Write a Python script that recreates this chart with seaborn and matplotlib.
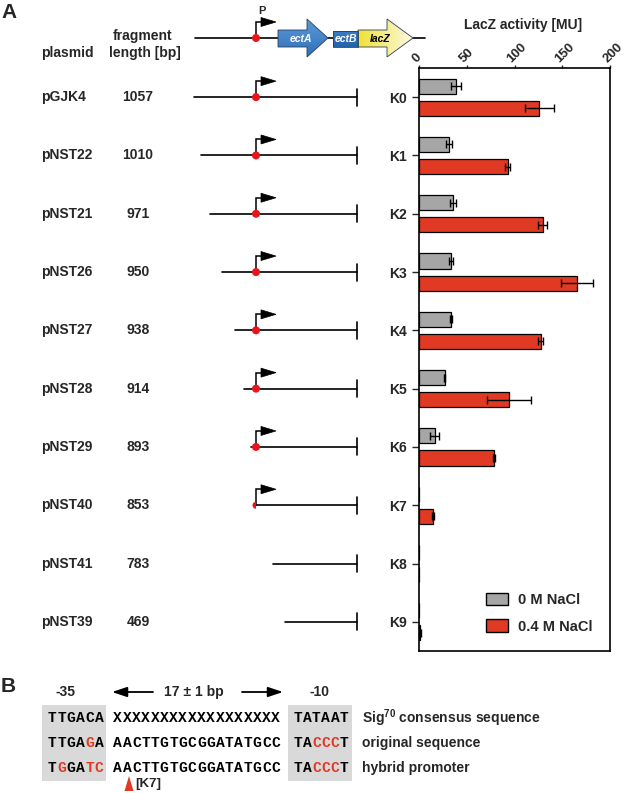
import numpy as np
import pandas as pd
import matplotlib
matplotlib.use("Agg")
import matplotlib.pyplot as plt
from matplotlib.patches import Polygon, Rectangle, Circle, Wedge, Patch
from matplotlib.transforms import ScaledTranslation
import seaborn as sns

sns.set_style("white")
plt.rcParams["font.family"] = ["Liberation Sans", "DejaVu Sans"]
plt.rcParams["font.weight"] = "bold"
plt.rcParams["mathtext.fontset"] = "custom"
plt.rcParams["mathtext.rm"] = "Liberation Sans:bold"
plt.rcParams["mathtext.bf"] = "Liberation Sans:bold"

# ---- Data ----
plasmids = ["pGJK4", "pNST22", "pNST21", "pNST26", "pNST27",
            "pNST28", "pNST29", "pNST40", "pNST41", "pNST39"]
frag_len = [1057, 1010, 971, 950, 938, 914, 893, 853, 783, 469]
constructs = ["K0", "K1", "K2", "K3", "K4", "K5", "K6", "K7", "K8", "K9"]
salt = ["0 M NaCl", "0.4 M NaCl"]
lacz_0M = [38.7, 31.4, 35.6, 33.9, 33.5, 27.2, 16.4, 0, 0, 0]
lacz_0M_err = [5.4, 3.0, 3.3, 2.0, 1.0, 0.5, 4.5, 0, 0, 0]
lacz_04M = [126.0, 92.8, 129.8, 165.4, 127.4, 94.2, 78.9, 15.0, 0, 1.5]
lacz_04M_err = [15.0, 2.5, 4.7, 16.8, 2.8, 23.4, 1.0, 1.0, 0, 0.5]
# construct drawing: left end of each fragment (drawing px), promoter: 2 full, 1 cut, 0 none
frag_start = [194, 201, 210, 222, 235, 244, 251, 256, 273, 285]
promoter_state = [2, 2, 2, 2, 2, 2, 2, 1, 0, 0]

# panel B
seq_labels = ["Sig$^{70}$ consensus sequence", "original sequence", "hybrid promoter"]
box35 = ["TTGACA", "TTGAGA", "TGGATC"]
spacer = ["XXXXXXXXXXXXXXXXXX", "AACTTGTGCGGATATGCC", "AACTTGTGCGGATATGCC"]
box10 = ["TATAAT", "TACCCT", "TACCCT"]

gray = "#a6a6a6"
red = "#e13a24"
dot_red = "#e8141c"

W, H = 625, 793
fig = plt.figure(figsize=(W / 100, H / 100), dpi=100)

# drawing canvas in pixel coordinates
canvas = fig.add_axes([0, 0, 1, 1])
canvas.set_xlim(0, W)
canvas.set_ylim(H, 0)
canvas.axis("off")

# ---- Bar chart ----
ax_top, ax_bot, ax_left, ax_right = 68, 651, 419, 610
ax = fig.add_axes([ax_left / W, 1 - ax_bot / H, (ax_right - ax_left) / W, (ax_bot - ax_top) / H])
ax.patch.set_alpha(0)

df = pd.DataFrame({
    "construct": constructs * 2,
    "activity": lacz_0M + lacz_04M,
    "salt": [salt[0]] * len(constructs) + [salt[1]] * len(constructs),
})
sns.barplot(data=df, x="activity", y="construct", hue="salt", orient="h",
            palette=[gray, red], saturation=1, width=0.76, gap=0.32,
            edgecolor="black", linewidth=0.9, errorbar=None, legend=False, ax=ax)

for cont, errs in zip(ax.containers, [lacz_0M_err, lacz_04M_err]):
    for bar, e in zip(cont, errs):
        if e == 0:
            continue
        yc = bar.get_y() + bar.get_height() / 2
        ax.errorbar(bar.get_width(), yc, xerr=e, color="black", lw=1,
                    capsize=3.2, capthick=1)

ax.set_xlim(0, 200)
ax.set_ylim(9.5, -0.5)
ax.set_xticks([0, 50, 100, 150, 200])
ax.xaxis.tick_top()
ax.set_ylabel("")
ax.set_xlabel("LacZ activity [MU]", fontsize=10, fontweight="bold")
ax.xaxis.set_label_position("top")
ax.xaxis.set_label_coords(0.545, 1.074)
ax.xaxis.label.set_va("center")
ax.tick_params(axis="y", length=5, width=1, direction="out", labelsize=10, pad=4, left=True)
ax.tick_params(axis="x", length=2, width=1, direction="out", labelsize=9.5, pad=3, top=True)
shift = ScaledTranslation(-5 / 100, 0, fig.dpi_scale_trans)
for lab in ax.get_xticklabels():
    lab.set_rotation(45)
    lab.set_rotation_mode("anchor")
    lab.set_ha("left")
    lab.set_va("center")
    lab.set_transform(lab.get_transform() + shift)
for sp in ax.spines.values():
    sp.set_visible(True)
    sp.set_color("black")
    sp.set_linewidth(1.2)

handles = [Patch(facecolor=c, edgecolor="black", lw=1) for c in [gray, red]]
ax.legend(handles, salt, loc="lower left", bbox_to_anchor=(0.35, 0.03),
          frameon=False, fontsize=10.5, handlelength=1.5, handleheight=0.9,
          handletextpad=0.7, labelspacing=0.85, borderpad=0, borderaxespad=0)

# ---- Panel A drawing ----
canvas.text(1, 12, "A", fontsize=15, fontweight="bold", va="center", ha="left")
canvas.text(41, 53, "plasmid", fontsize=10, va="center", ha="left")
canvas.text(143, 36, "fragment", fontsize=10, va="center", ha="center")
canvas.text(145, 53, "length [bp]", fontsize=10, va="center", ha="center")

end_x = 357
prom_x = 256


def promoter(x, y, state):
    canvas.plot([x, x, x + 6], [y, y - 16, y - 16], color="black", lw=1.1,
                solid_joinstyle="miter", zorder=3)
    canvas.add_patch(Polygon([[x + 5, y - 20.5], [x + 5, y - 11.5], [x + 20, y - 16]],
                             closed=True, fc="black", ec="black", lw=0.5, zorder=3))
    if state == 2:
        canvas.add_patch(Circle((x, y), 4, fc=dot_red, ec="none", zorder=5))
    elif state == 1:
        canvas.add_patch(Wedge((x, y), 3.5, 90, 270, fc=dot_red, ec="none", zorder=5))


row_h = (ax_bot - ax_top) / len(constructs)
for i, (pl, fl, xs, ps) in enumerate(zip(plasmids, frag_len, frag_start, promoter_state)):
    y = ax_top + (i + 0.5) * row_h
    canvas.text(41, y, pl, fontsize=10, va="center", ha="left")
    canvas.text(138, y, str(fl), fontsize=10, va="center", ha="center")
    canvas.plot([xs, end_x], [y, y], color="black", lw=1.2, zorder=2)
    canvas.plot([end_x, end_x], [y - 8.5, y + 8.5], color="black", lw=1.2, zorder=2)
    if ps:
        promoter(prom_x, y, ps)

# gene map
gy = 38
canvas.plot([195, 278], [gy, gy], color="black", lw=1.2, zorder=2)
canvas.plot([328, 333], [gy, gy], color="black", lw=1.2, zorder=2)
canvas.plot([413, 425], [gy, gy], color="black", lw=1.2, zorder=2)
promoter(prom_x, gy, 2)
canvas.text(262, 11, "P", fontsize=8, va="center", ha="center")


def gradient_shape(verts, c1, c2, horizontal):
    poly = Polygon(verts, closed=True, fc="none", ec="#2b3f5c", lw=0.6, zorder=4)
    canvas.add_patch(poly)
    xs = [v[0] for v in verts]
    ys = [v[1] for v in verts]
    t = np.linspace(0, 1, 64)
    a = np.array(matplotlib.colors.to_rgb(c1))
    b = np.array(matplotlib.colors.to_rgb(c2))
    grad = a[None, :] * (1 - t[:, None]) + b[None, :] * t[:, None]
    img = grad[None, :, :] if horizontal else grad[:, None, :]
    im = canvas.imshow(img, extent=(min(xs), max(xs), max(ys), min(ys)),
                       aspect="auto", zorder=3.5, interpolation="bilinear")
    im.set_clip_path(poly)
    canvas.set_xlim(0, W)
    canvas.set_ylim(H, 0)


ectA = [(278, 30), (307, 30), (307, 19), (328, 38), (307, 57), (307, 47), (278, 47)]
ectB = [(333, 31), (358, 31), (358, 47), (333, 47)]
lacZ = [(358, 30), (387, 30), (387, 19), (413, 38), (387, 57), (387, 47), (358, 47)]
gradient_shape(ectA, "#5b9ad8", "#2f6fb8", horizontal=False)
gradient_shape(ectB, "#3a7cc4", "#2462a8", horizontal=False)
gradient_shape(lacZ, "#f1e136", "#fdf9e2", horizontal=True)
canvas.text(301, 38.5, "ectA", fontsize=7.5, style="italic", color="white",
            va="center", ha="center", zorder=6)
canvas.text(346, 38.5, "ectB", fontsize=7.5, style="italic", color="white",
            va="center", ha="center", zorder=6)
canvas.text(380, 38.5, "lacZ", fontsize=7.5, style="italic", color="black",
            va="center", ha="center", zorder=6)

# ---- Panel B ----
canvas.text(1, 687, "B", fontsize=15, fontweight="bold", va="center", ha="left")
hy = 692
canvas.text(65, hy, "-35", fontsize=10, va="center", ha="center")
canvas.text(194, hy, "17 \u00b1 1 bp", fontsize=10, va="center", ha="center")
canvas.text(320, hy, "-10", fontsize=10, va="center", ha="center")
arrow_kw = dict(arrowstyle="-|>,head_length=0.9,head_width=0.3", color="black",
                lw=1.3, shrinkA=0, shrinkB=0)
canvas.annotate("", xy=(112, hy), xytext=(153, hy), arrowprops=arrow_kw)
canvas.annotate("", xy=(283, hy), xytext=(242, hy), arrowprops=arrow_kw)

canvas.add_patch(Rectangle((42, 705), 64, 76, fc="#d9d9d9", ec="none", zorder=1))
canvas.add_patch(Rectangle((288, 705), 64, 76, fc="#d9d9d9", ec="none", zorder=1))

pitch = 9.3
mono = dict(family="Liberation Mono", fontsize=10.5, fontweight="bold",
            va="center", ha="center", zorder=3)


def draw_seq(seq, ref, x0, y):
    for k, ch in enumerate(seq):
        col = red if ch != ref[k] else "black"
        canvas.text(x0 + k * pitch, y, ch, color=col, **mono)


row_y = [718, 743, 768]
for r, y in enumerate(row_y):
    draw_seq(box35[r], box35[0], 52.5, y)
    draw_seq(spacer[r], spacer[r], 117.7, y)
    draw_seq(box10[r], box10[0], 297.7, y)
    canvas.text(362, y, seq_labels[r], fontsize=10, va="center", ha="left")

canvas.add_patch(Polygon([[124.5, 791], [133.5, 791], [129, 776]], closed=True,
                         fc=red, ec="none", zorder=3))
canvas.text(135, 784, "[K7]", fontsize=9.5, va="center", ha="left")

fig.savefig("out.png", dpi=100)
